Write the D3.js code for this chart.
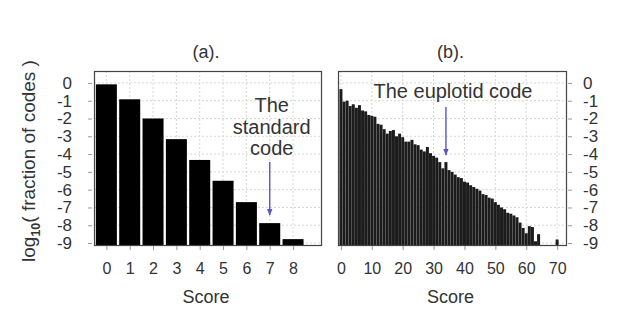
<!DOCTYPE html>
<html>
<head>
<meta charset="utf-8">
<script src="https://cdn.jsdelivr.net/npm/d3@7"></script>
<style>
  html, body { margin: 0; padding: 0; background: #fff; }
  svg { display: block; }
  text { font-family: "Liberation Sans", Arial, sans-serif; fill: #333; }
</style>
</head>
<body>
<svg id="chart" width="620" height="325"></svg>
<script>
// Panel (a): score distribution for codes scored against the standard-code criterion
const scoresA = [0, 1, 2, 3, 4, 5, 6, 7, 8];
const valuesA = [-0.08, -0.92, -2.0, -3.16, -4.33, -5.5, -6.7, -7.88, -8.78];

// Panel (b): score distribution for the euplotid criterion
const scoresB = [
  0, 1, 2, 3, 4, 5, 6, 7, 8, 9,
  10, 11, 12, 13, 14, 15, 16, 17, 18, 19,
  20, 21, 22, 23, 24, 25, 26, 27, 28, 29,
  30, 31, 32, 33, 34, 35, 36, 37, 38, 39,
  40, 41, 42, 43, 44, 45, 46, 47, 48, 49,
  50, 51, 52, 53, 54, 55, 56, 57, 58, 59,
  60, 61, 62, 63, 64, 70
];
const valuesB = [
  -0.35, -1.05, -1.0, -1.3, -1.2, -1.4, -1.25, -1.55, -1.6, -1.8,
  -1.85, -1.9, -2.3, -2.35, -2.6, -2.85, -2.7, -2.65, -3.0, -2.85,
  -3.05, -3.3, -3.3, -3.2, -3.45, -3.5, -3.75, -3.85, -3.6, -3.95,
  -4.1, -4.2, -4.45, -4.8, -4.45, -4.9, -5.0, -5.15, -5.3, -5.35,
  -5.55, -5.6, -5.75, -5.85, -5.95, -6.05, -6.25, -6.3, -6.45, -6.5,
  -6.7, -6.85, -7.0, -7.1, -7.3, -7.35, -7.45, -7.55, -7.85, -8.15,
  -8.45, -8.05, -8.1, -8.9, -8.5, -8.8
];

const yTicks = [0, -1, -2, -3, -4, -5, -6, -7, -8, -9];
const xTicksA = [0, 1, 2, 3, 4, 5, 6, 7, 8];
const xTicksB = [0, 10, 20, 30, 40, 50, 60, 70];

// Marked codes
const standardScore = 7;
const euplotidScore = 34;

const svg = d3.select("#chart");

const plotTop = 71, plotBottom = 245;
const y = d3.scaleLinear().domain([-9.11, 0.67]).range([plotBottom, plotTop]);

const xA = d3.scaleLinear().domain([-0.53, 9.24]).range([94, 322]);
const xB = d3.scaleLinear().domain([-0.95, 73.2]).range([338, 567]);

const gridColor = "#d6d6d6";
const frameColor = "#444";
const arrowColor = "#5a55c8";
const plainNum = d => String(d);   // keeps the ASCII hyphen for negatives

svg.append("defs").append("marker")
  .attr("id", "head")
  .attr("viewBox", "0 0 10 10")
  .attr("refX", 9).attr("refY", 5)
  .attr("markerWidth", 5).attr("markerHeight", 5)
  .attr("orient", "auto")
  .append("path").attr("d", "M0,1 L10,5 L0,9 Z").attr("fill", arrowColor);

function panel(x, xTicks, scores, values, barW, barColor, yAxisSide, title) {
  const [x0, x1] = x.range();
  const g = svg.append("g");

  // grid
  g.selectAll(".hg").data(yTicks).join("line")
    .attr("x1", x0).attr("x2", x1)
    .attr("y1", d => y(d)).attr("y2", d => y(d))
    .attr("stroke", gridColor).attr("stroke-dasharray", "2,2");
  g.selectAll(".vg").data(xTicks).join("line")
    .attr("x1", d => x(d)).attr("x2", d => x(d))
    .attr("y1", plotTop).attr("y2", plotBottom)
    .attr("stroke", gridColor).attr("stroke-dasharray", "2,2");

  // bars
  g.selectAll(".bar").data(scores.map((s, i) => ({ s, v: values[i] }))).join("rect")
    .attr("x", d => x(d.s - barW / 2))
    .attr("width", d => x(d.s + barW / 2) - x(d.s - barW / 2))
    .attr("y", d => y(d.v))
    .attr("height", d => plotBottom - y(d.v))
    .attr("fill", barColor);

  // frame
  g.append("rect")
    .attr("x", x0 + 0.5).attr("y", plotTop + 0.5)
    .attr("width", x1 - x0 - 1).attr("height", plotBottom - plotTop)
    .attr("fill", "none").attr("stroke", frameColor).attr("stroke-width", 1.2);

  // x axis
  const xAxis = d3.axisBottom(x).tickValues(xTicks).tickSize(4).tickPadding(13)
    .tickFormat(plainNum);
  const xg = g.append("g").attr("transform", `translate(0,${plotBottom + 1})`).call(xAxis);
  xg.select(".domain").remove();
  xg.selectAll(".tick line").attr("stroke", "#999");
  xg.selectAll("text").attr("font-size", 16).attr("fill", "#333")
    .style("font-family", "'Liberation Sans', Arial, sans-serif");

  // y axis
  const yAxis = (yAxisSide === "left" ? d3.axisLeft(y) : d3.axisRight(y))
    .tickValues(yTicks).tickSize(4).tickPadding(yAxisSide === "left" ? 16 : 11)
    .tickFormat(plainNum);
  const yg = g.append("g")
    .attr("transform", `translate(${yAxisSide === "left" ? x0 - 2 : x1 + 1},0)`)
    .call(yAxis);
  yg.select(".domain").remove();
  yg.selectAll(".tick line").attr("stroke", "#999");
  yg.selectAll("text").attr("font-size", 17).attr("fill", "#333")
    .style("font-family", "'Liberation Sans', Arial, sans-serif");

  // title and x label
  const cx = (x0 + x1) / 2;
  g.append("text").attr("x", cx - 2).attr("y", 58)
    .attr("text-anchor", "middle").attr("font-size", 18).text(title);
  g.append("text").attr("x", cx - 2).attr("y", 303)
    .attr("text-anchor", "middle").attr("font-size", 18).text("Score");
  return g;
}

panel(xA, xTicksA, scoresA, valuesA, 0.9, "#000", "left", "(a).");
panel(xB, xTicksB, scoresB, valuesB, 0.97, "#1c1c1c", "right", "(b).");

// y axis title
const yt = svg.append("text")
  .attr("transform", "translate(35,161) rotate(-90)")
  .attr("text-anchor", "middle").attr("font-size", 19);
yt.append("tspan").text("log");
yt.append("tspan").attr("font-size", 12.5).attr("dy", 5).attr("font-weight", "bold").text("10");
yt.append("tspan").attr("dy", -5).text("( fraction of codes )");

// annotation: the standard code
const sv = valuesA[scoresA.indexOf(standardScore)];
const ax = xA(standardScore);
svg.append("g").selectAll("text")
  .data(["The", "standard", "code"]).join("text")
  .attr("x", ax + 2).attr("y", (d, i) => 112 + i * 21.5)
  .attr("text-anchor", "middle").attr("font-size", 20).attr("fill", "#333")
  .text(d => d);
svg.append("line")
  .attr("x1", ax).attr("x2", ax)
  .attr("y1", 162).attr("y2", y(sv + 0.45))
  .attr("stroke", arrowColor).attr("stroke-width", 1.4)
  .attr("marker-end", "url(#head)");

// annotation: the euplotid code
const ev = valuesB[scoresB.indexOf(euplotidScore)];
const bx = xB(euplotidScore);
svg.append("text")
  .attr("x", 453).attr("y", 98)
  .attr("text-anchor", "middle").attr("font-size", 20).attr("fill", "#333")
  .text("The euplotid code");
svg.append("line")
  .attr("x1", bx).attr("x2", bx)
  .attr("y1", 107).attr("y2", y(ev + 0.4))
  .attr("stroke", arrowColor).attr("stroke-width", 1.4)
  .attr("marker-end", "url(#head)");
</script>
</body>
</html>
